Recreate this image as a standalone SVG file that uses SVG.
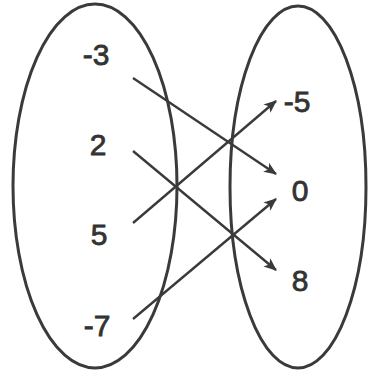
<svg xmlns="http://www.w3.org/2000/svg" width="368" height="372" viewBox="0 0 368 372">
<style>
.set{fill:none;stroke:#3a3a3a;stroke-width:3}
.lbl{font-family:"Liberation Sans",Arial,sans-serif;font-size:30px;fill:#333;stroke:#333;stroke-width:0.8;text-anchor:middle}
.arr{stroke:#3a3a3a;stroke-width:2.4;fill:none;marker-end:url(#ah)}
</style>
<defs>
<marker id="ah" viewBox="0 0 12 10" refX="11" refY="5" markerWidth="13" markerHeight="11" markerUnits="userSpaceOnUse" orient="auto">
<path d="M0,0 L12,5 L0,10 L3,5 Z" fill="#3a3a3a"/>
</marker>
</defs>
<rect width="368" height="372" fill="#fff"/>
<g id="domain">
<ellipse class="set" cx="95" cy="186" rx="82" ry="182"/>
<text class="lbl" x="96" y="65">-3</text>
<text class="lbl" x="98" y="155">2</text>
<text class="lbl" x="99" y="245">5</text>
<text class="lbl" x="97" y="336">-7</text>
</g>
<g id="range">
<ellipse class="set" cx="298" cy="187" rx="68" ry="181"/>
<text class="lbl" x="297" y="112">-5</text>
<text class="lbl" x="300" y="201">0</text>
<text class="lbl" x="300" y="291">8</text>
</g>
<g id="connectors">
<line class="arr" x1="133" y1="78" x2="276" y2="174"/>
<line class="arr" x1="133" y1="151" x2="276" y2="270"/>
<line class="arr" x1="133" y1="223" x2="276" y2="101"/>
<line class="arr" x1="133" y1="319" x2="276" y2="199"/>
</g>
</svg>
